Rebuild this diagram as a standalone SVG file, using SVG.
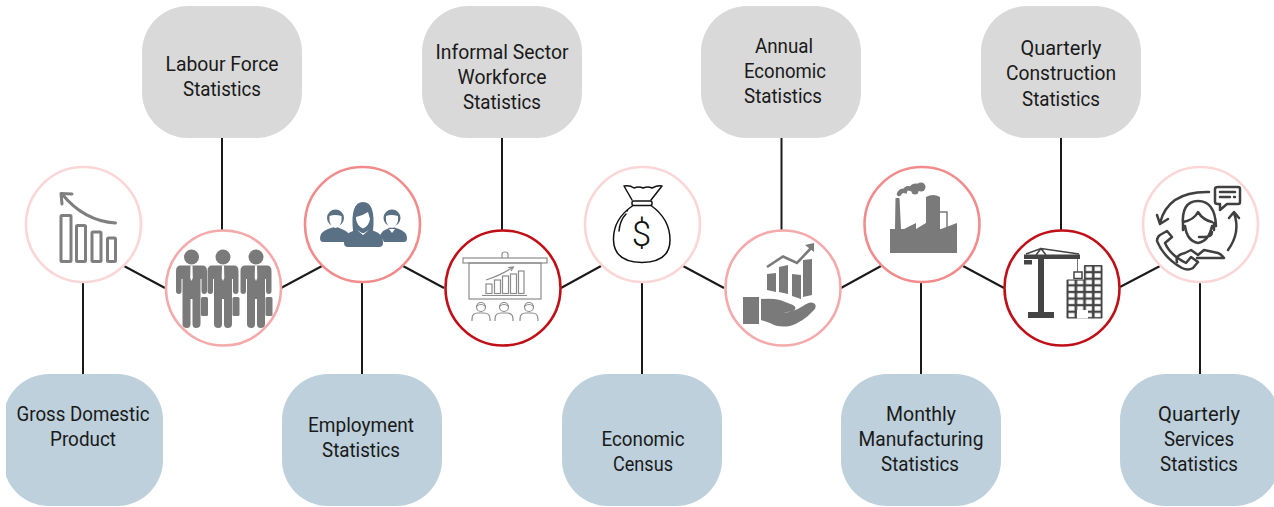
<svg xmlns="http://www.w3.org/2000/svg" xmlns:xlink="http://www.w3.org/1999/xlink" width="1274" height="507" viewBox="0 0 1274 507">
<style>
text{font-family:Roboto,"Noto Sans","Liberation Sans",sans-serif;font-size:21px;fill:#1a1a1a;text-anchor:middle}
.g{fill:#d9d9d9}.b{fill:#bdd0db}
.c{fill:#fff;stroke-width:2.6}
.c1{stroke:#fbd6d6}.c2{stroke:#f4aaaa}.c3{stroke:#f28c8c}.c4{stroke:#c00f16}
#connectors line{stroke:#1a1a1a;stroke-width:2}
.o{fill:none;stroke:#7f7f7f;stroke-width:3;stroke-linecap:round;stroke-linejoin:round}
.t{fill:none;stroke:#8c8c8c;stroke-width:1.2}
.k{fill:none;stroke:#111;stroke-width:1.5;stroke-linecap:round;stroke-linejoin:round}
.a{fill:none;stroke:#404040;stroke-width:2.500;stroke-linecap:round;stroke-linejoin:round}
.gf{fill:#7a7a7a}.df{fill:#444}.sl{fill:#5a7085}.w{fill:#fff}
</style>
<defs>
<clipPath id="edge"><rect x="6" y="0" width="1268" height="507"/></clipPath>
<g id="person">
<circle cx="0" cy="0" r="7.5" class="gf"/>
<path class="gf" d="M-11,8.500H11Q15.500,8.500 15.500,14V34Q15.500,37 12.700,37Q10,37 10,34V22H9V67Q9,71 4.500,71Q1,71 1,67V42H-1V67Q-1,71 -4.500,71Q-9,71 -9,67V22H-10V34Q-10,37 -12.700,37Q-15.500,37 -15.500,34V14Q-15.500,8.500 -11,8.500Z"/>
<path class="w" d="M-1,8.500H1L1.300,21L0,24L-1.300,21Z"/>
<rect x="9.500" y="40" width="7" height="19" rx="1.500" class="gf"/>
</g>
<g id="listener">
<circle cx="0" cy="0" r="4.500" class="t"/>
<path class="t" d="M-4.300,-1Q0,-4 4.300,-1"/>
<path class="t" d="M-9,14V12Q-9,6 -3,6H3Q9,6 9,12V14"/>
</g>
<pattern id="win" width="8.700" height="6.600" patternUnits="userSpaceOnUse" x="1067" y="265.500">
<rect width="8.700" height="6.600" fill="#444"/><rect x="1.500" y="1.200" width="6" height="4.300" fill="#fff"/>
</pattern>
</defs>

<g id="connectors">
<line x1="222" y1="138" x2="222" y2="230"/><line x1="502" y1="138" x2="502" y2="230"/><line x1="781.500" y1="138" x2="781.500" y2="230"/><line x1="1061" y1="138" x2="1061" y2="230"/>
<line x1="83" y1="283" x2="83" y2="374"/><line x1="362" y1="283" x2="362" y2="374"/><line x1="642" y1="283" x2="642" y2="374"/><line x1="921" y1="283" x2="921" y2="374"/><line x1="1200" y1="283" x2="1200" y2="374"/>
<line x1="124" y1="266" x2="165" y2="288"/><line x1="281" y1="288" x2="322" y2="266"/><line x1="403" y1="266" x2="444" y2="288"/><line x1="561" y1="288" x2="601" y2="266"/><line x1="683" y1="266" x2="724" y2="288"/><line x1="841" y1="288" x2="881" y2="266"/><line x1="963" y1="266" x2="1004" y2="288"/><line x1="1120" y1="287" x2="1160" y2="266"/>
</g>

<g id="box-labour"><rect class="g" x="142" y="6" width="160" height="132" rx="46"/><text x="222" y="71" textLength="113" lengthAdjust="spacingAndGlyphs">Labour Force</text><text x="222" y="96" textLength="78" lengthAdjust="spacingAndGlyphs">Statistics</text></g>
<g id="box-informal"><rect class="g" x="422" y="6" width="160" height="132" rx="46"/><text x="502" y="59" textLength="133" lengthAdjust="spacingAndGlyphs">Informal Sector</text><text x="502" y="84" textLength="89" lengthAdjust="spacingAndGlyphs">Workforce</text><text x="502" y="109" textLength="78" lengthAdjust="spacingAndGlyphs">Statistics</text></g>
<g id="box-annual"><rect class="g" x="701" y="6" width="160" height="132" rx="46"/><text x="784" y="53" textLength="58" lengthAdjust="spacingAndGlyphs">Annual</text><text x="785" y="78" textLength="82" lengthAdjust="spacingAndGlyphs">Economic</text><text x="783" y="103" textLength="78" lengthAdjust="spacingAndGlyphs">Statistics</text></g>
<g id="box-construction"><rect class="g" x="981" y="6" width="160" height="132" rx="46"/><text x="1061" y="55" textLength="81" lengthAdjust="spacingAndGlyphs">Quarterly</text><text x="1061" y="80" textLength="110" lengthAdjust="spacingAndGlyphs">Construction</text><text x="1061" y="106" textLength="78" lengthAdjust="spacingAndGlyphs">Statistics</text></g>
<g id="box-gdp"><rect class="b" x="3" y="374" width="160" height="132" rx="46" clip-path="url(#edge)"/><text x="83" y="421" textLength="133" lengthAdjust="spacingAndGlyphs">Gross Domestic</text><text x="83" y="446" textLength="66" lengthAdjust="spacingAndGlyphs">Product</text></g>
<g id="box-employment"><rect class="b" x="282" y="374" width="160" height="132" rx="46"/><text x="361" y="432" textLength="106" lengthAdjust="spacingAndGlyphs">Employment</text><text x="361" y="457" textLength="78" lengthAdjust="spacingAndGlyphs">Statistics</text></g>
<g id="box-census"><rect class="b" x="562" y="374" width="160" height="132" rx="46"/><text x="643" y="446" textLength="83" lengthAdjust="spacingAndGlyphs">Economic</text><text x="643" y="471" textLength="60" lengthAdjust="spacingAndGlyphs">Census</text></g>
<g id="box-manufacturing"><rect class="b" x="841" y="374" width="160" height="132" rx="46"/><text x="921" y="421" textLength="70" lengthAdjust="spacingAndGlyphs">Monthly</text><text x="921" y="446" textLength="125" lengthAdjust="spacingAndGlyphs">Manufacturing</text><text x="920" y="471" textLength="78" lengthAdjust="spacingAndGlyphs">Statistics</text></g>
<g id="box-services"><rect class="b" x="1120" y="374" width="160" height="132" rx="46"/><text x="1199" y="421" textLength="82" lengthAdjust="spacingAndGlyphs">Quarterly</text><text x="1199" y="446" textLength="70" lengthAdjust="spacingAndGlyphs">Services</text><text x="1199" y="471" textLength="78" lengthAdjust="spacingAndGlyphs">Statistics</text></g>

<g id="node-gdp"><circle class="c c1" cx="83.500" cy="224.500" r="57.500"/>
<rect class="o" x="61" y="215.500" width="10" height="46" rx="1"/><rect class="o" x="76.500" y="225.500" width="9" height="36" rx="1"/><rect class="o" x="92" y="232" width="9" height="29.500" rx="1"/><rect class="o" x="107.500" y="238" width="8" height="23.500" rx="1"/>
<path class="o" d="M115.500,223Q84,221 62,194M62,204L61,193.500L72,194"/></g>

<g id="node-labour"><circle class="c c2" cx="223.500" cy="288" r="57.500"/>
<use xlink:href="#person" href="#person" x="191.500" y="257"/><use xlink:href="#person" href="#person" x="223" y="257"/><use xlink:href="#person" href="#person" x="256" y="257"/></g>

<g id="node-employment"><circle class="c c3" cx="362.500" cy="224.500" r="57.500"/>
<path class="sl" d="M320,238Q320,232 328,229L334,227H337L344,230Q348,232 350,235L345,242H323Q320,242 320,238Z"/>
<circle class="sl" cx="335.500" cy="218" r="8.500"/><path class="w" d="M329.500,216Q335,214 341.500,216V221Q340,227 335.500,228Q331,227 329.500,221Z"/>
<path class="sl" d="M407,238Q407,232 399,229L393,227H391L383,231L380,235L384,242H404Q407,242 407,238Z"/>
<circle class="sl" cx="392" cy="218" r="8.500"/><path class="w" d="M386,216Q391,214 398,216V221Q396,227 392,228Q388,227 386,221Z"/>
<path class="w" d="M389,229H395L392,233Z"/>
<path class="sl" d="M344,242Q344,234 353,231L359,228H367L374,231Q383,234 383,242V243Q383,247 379,247H348Q344,247 344,243Z"/>
<path class="sl" d="M353,231Q350,202 363,202Q376,202 373,231Z"/>
<path class="w" d="M356,217Q362,216 368,212L370,219Q369,226 363,228.500Q357,226 356,219ZM357,230L363,235L369,230L364,233H362Z"/></g>

<g id="node-informal"><circle class="c c4" cx="503" cy="288" r="57.500"/>
<rect class="t" x="463" y="258" width="84" height="5"/><path class="t" d="M502,258V254Q502,252 505,252Q508,252 508,254V258"/><rect class="t" x="469" y="263" width="72" height="36"/>
<rect class="t" x="486" y="284" width="6" height="9.500"/><rect class="t" x="494.500" y="280" width="6" height="13.500"/><rect class="t" x="502.500" y="276" width="6" height="17.500"/><rect class="t" x="510.500" y="274" width="6" height="19.500"/><rect class="t" x="518.500" y="271" width="5.500" height="22.500"/>
<path class="t" d="M482,295.500H527M486,280Q502,275 513,267M508,267.500L513.500,267L511,271"/>
<use xlink:href="#listener" href="#listener" x="481" y="307"/><use xlink:href="#listener" href="#listener" x="504" y="307"/><use xlink:href="#listener" href="#listener" x="529" y="307"/></g>

<g id="node-census"><circle class="c c1" cx="642.500" cy="224.500" r="57.500"/>
<path class="k" d="M632,200L624,186Q630,185 634,188Q639,186 643,188Q648,186 652,188Q658,185 662,186L651,200"/>
<rect class="k" x="632" y="201" width="20" height="4.500" rx="1.500"/>
<path class="k" d="M633,205.500Q613,219 613.500,240Q614,262 642,262.500Q670,262 670,240Q670,219 651,205.500"/>
<path class="k" d="M619,231Q620,220 626,214M627,211L627.500,210.500"/>
<text x="641.500" y="246" style="font-family:Roboto,sans-serif;font-size:35px;font-weight:300;fill:#111">$</text></g>

<g id="node-annual"><circle class="c c2" cx="783" cy="288" r="57.500"/>
<path class="gf" d="M767,274L776,273V292L767,290ZM779,267L788,265V294L779,292ZM792,274L801,275V299L792,296ZM803,260L812,259V295L803,297Z"/>
<path d="M767,267L783,256.500L797,263L812,247" fill="none" stroke="#7a7a7a" stroke-width="2.600"/><path class="gf" d="M805,245L814,243V252Z"/>
<rect class="gf" x="743" y="297" width="16" height="27"/>
<path class="gf" d="M761,299Q772,298 780,300L793,305Q798,308 793,311L782,313Q794,312 803,306Q811,300 815,304Q817,308 813,311Q803,322 790,326Q778,328 770,323L761,320Z"/></g>

<g id="node-manufacturing"><circle class="c c3" cx="922" cy="224.500" r="57.500"/>
<path class="gf" d="M890,229H895L895.500,198H899.500L901,229H904L916,223V229L926,223V197Q933,193 940,197V229H941L957,223V253H890Z"/>
<path d="M940,212H947V229" fill="none" stroke="#7a7a7a" stroke-width="1.500"/>
<path d="M899,194Q901,190 905,191Q906,187 911,189Q913,185 918,186" fill="none" stroke="#7a7a7a" stroke-width="4.500" stroke-linecap="round"/><circle class="gf" cx="921" cy="187" r="4.500"/><circle class="gf" cx="915" cy="191" r="3.500"/></g>

<g id="node-construction"><circle class="c c4" cx="1062" cy="288" r="57.500"/>
<path class="df" d="M1038,259H1044V312H1054V318H1028V312H1038Z"/>
<rect class="df" x="1024" y="254.500" width="56" height="4.500"/><rect class="df" x="1024" y="260" width="8" height="4.500"/>
<path d="M1026,254L1041,248.500L1079,254M1036,255L1041,248.500L1046,255" fill="none" stroke="#444" stroke-width="1.500"/>
<path d="M1077.500,259V272" stroke="#777" stroke-width="1" fill="none"/>
<path d="M1084.400,265.500H1102V318H1067V280H1084.400Z" fill="url(#win)" stroke="#444" stroke-width="1"/><rect x="1074" y="272" width="8" height="6.500" fill="#fff" stroke="#444" stroke-width="1.500"/><rect class="w" x="1077" y="310" width="11" height="8.500"/>
</g>

<g id="node-services"><circle class="c c1" cx="1200.500" cy="224.500" r="57.500"/>
<path class="a" d="M1209,192Q1168,191 1160,223M1157,215L1160,224L1168,219M1228,250Q1241,232 1234,213M1229,218L1234,212L1239,218"/>
<path class="a" d="M1218,187H1238Q1240,187 1240,189V202Q1240,204 1238,204H1227L1220,210L1220,204H1218Q1215,204 1215,202V189Q1215,187 1218,187ZM1220,192H1235M1220,197H1230M1234,197H1235"/>
<path class="a" d="M1183,226Q1181,201 1198,201Q1215,201 1216,226M1183,222Q1194,220 1198,212Q1203,220 1212,222M1185,226Q1187,241 1198,243Q1209,241 1212,226M1183,223V230M1214,223V230M1212,232Q1212,237 1204,237H1199"/>
<path class="a" d="M1177,262Q1175,255 1185,253L1191,250L1198,255L1204,250L1218,253Q1221,254 1224,258H1197"/>
<path class="a" d="M1160,235L1167,231L1172,237L1165,243Q1170,255 1186,263L1191,257L1198,262L1193,268Q1188,271 1182,268Q1164,258 1157,241Q1157,237 1160,235Z"/></g>
</svg>
